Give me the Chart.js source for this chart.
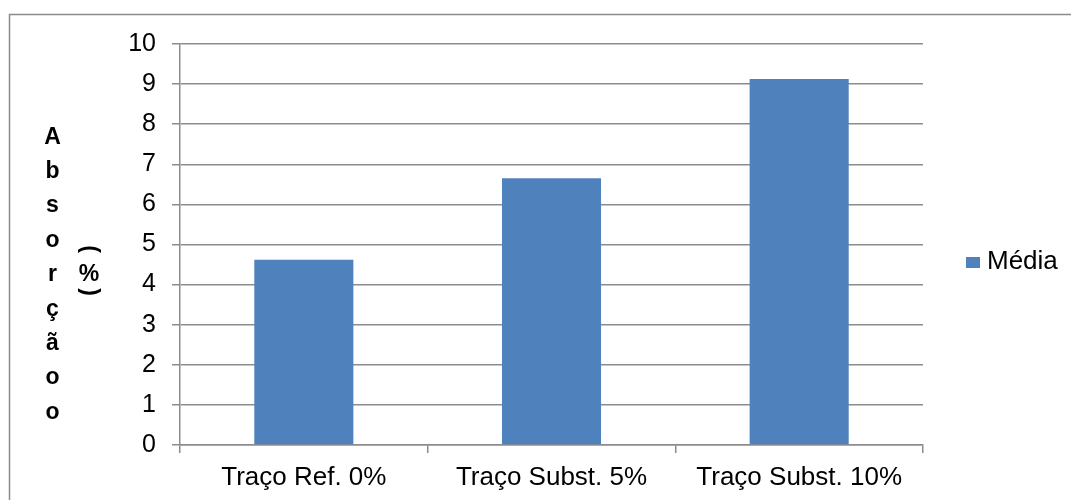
<!DOCTYPE html>
<html>
<head>
<meta charset="utf-8">
<script src="https://cdn.jsdelivr.net/npm/chart.js@4"></script>
<style>
  html, body { margin: 0; padding: 0; background: #fff; }
  #wrap { width: 1071px; height: 500px; position: relative; }
</style>
</head>
<body>
<div id="wrap"><canvas id="myChart"></canvas></div>
<script>
'use strict';
const categories = ['Traço Ref. 0%', 'Traço Subst. 5%', 'Traço Subst. 10%'];
const media = [4.62, 6.65, 9.13];
const seriesName = 'Média';
const yTitleLetters = ['A', 'b', 's', 'o', 'r', 'ç', 'ã', 'o', 'o'];
const yTitleUnit = ['(', '%', ')'];

const barColor = '#4F81BD';
const lineColor = '#8c8c8c';
const fontFamily = '"Liberation Sans", Arial, sans-serif';

// frame, stacked y title and the legend on the right
const extras = {
  id: 'extras',
  afterDraw(chart) {
    const ctx = chart.ctx;
    ctx.save();
    ctx.strokeStyle = lineColor;
    ctx.lineWidth = 1.5;
    ctx.strokeRect(9.5, 14.5, 1200, 600);

    ctx.fillStyle = '#000';
    ctx.font = 'bold 23px ' + fontFamily;
    ctx.textAlign = 'center';
    ctx.textBaseline = 'alphabetic';
    for (let i = 0; i < yTitleLetters.length; i++) {
      ctx.fillText(yTitleLetters[i], 52.5, 143.5 + i * 34.4);
    }
    ctx.textBaseline = 'middle';
    let ys = [249, 275, 292];
    for (let i = 0; i < yTitleUnit.length; i++) {
      ctx.save();
      ctx.translate(89, ys[i]);
      if (yTitleUnit[i] !== '%') ctx.rotate(Math.PI / 2);
      ctx.fillText(yTitleUnit[i], 0, 0);
      ctx.restore();
    }

    let ds = chart.data.datasets[0];
    ctx.fillStyle = ds.backgroundColor;
    ctx.fillRect(966, 257, 14, 11);
    ctx.fillStyle = '#000';
    ctx.font = '26px ' + fontFamily;
    ctx.textAlign = 'left';
    ctx.textBaseline = 'alphabetic';
    ctx.fillText(ds.label, 987, 268.5);
    ctx.restore();
  }
};

let ctx = document.getElementById('myChart').getContext('2d');
let myChart = new Chart(ctx, {
  type: 'bar',
  data: {
    labels: categories,
    datasets: [{
      label: seriesName,
      data: media,
      backgroundColor: barColor,
      borderWidth: 0,
      categoryPercentage: 1,
      barPercentage: 0.4
    }]
  },
  options: {
    responsive: true,
    maintainAspectRatio: false,
    animation: false,
    layout: { padding: { top: 44, right: 148, left: 0, bottom: 0 } },
    plugins: {
      legend: { display: false },
      tooltip: { enabled: false }
    },
    scales: {
      x: {
        grid: {
          offset: true,
          drawOnChartArea: false,
          color: lineColor,
          tickLength: 8,
          lineWidth: 1.5
        },
        border: { color: lineColor, width: 1.5 },
        ticks: {
          color: '#000',
          padding: 9,
          font: { family: fontFamily, size: 26 }
        },
        afterFit(scale) { scale.height = 55; }
      },
      y: {
        min: 0,
        max: 10,
        ticks: {
          stepSize: 1,
          color: '#000',
          padding: 16,
          font: { family: fontFamily, size: 25 }
        },
        grid: { color: lineColor, tickLength: 8, lineWidth: 1.5 },
        border: { color: lineColor, width: 1.5 },
        afterFit(scale) { scale.width = 180; }
      }
    }
  },
  plugins: [extras]
});
</script>
</body>
</html>
